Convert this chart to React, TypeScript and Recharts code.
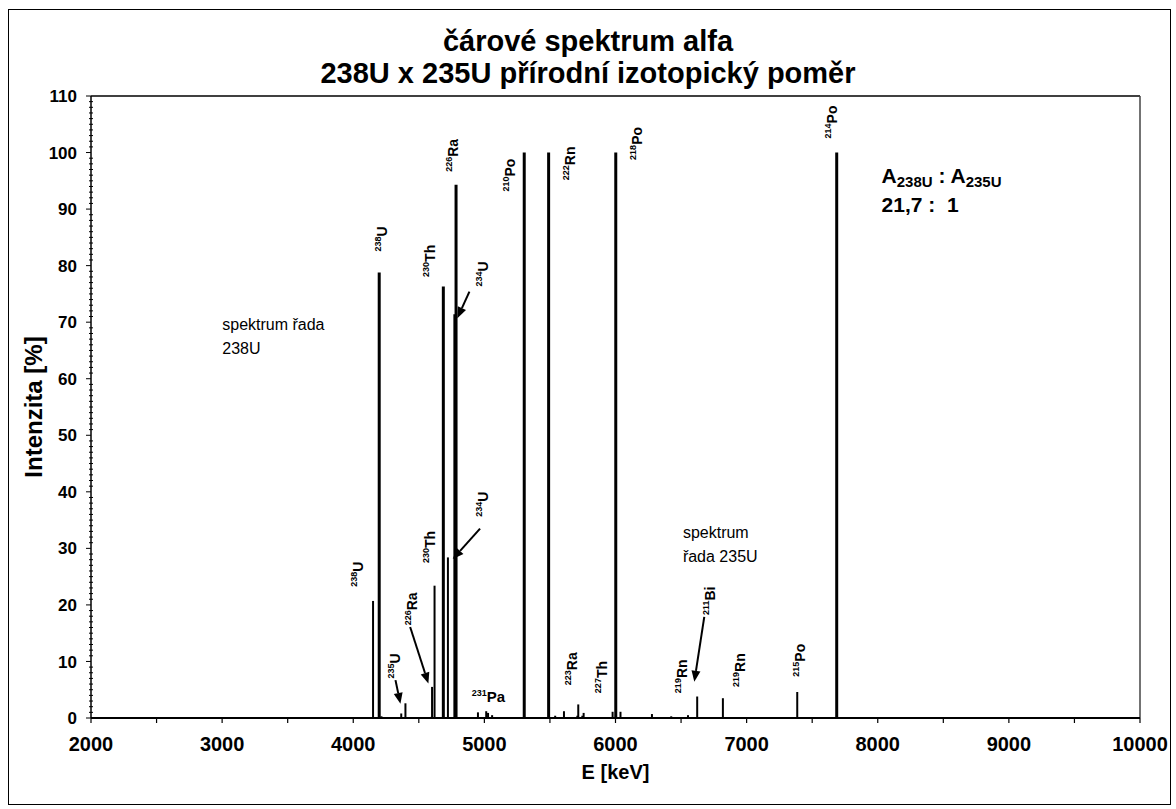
import React from 'react'
import {
  ComposedChart,
  XAxis,
  YAxis,
  ReferenceLine,
  ReferenceDot,
  Label,
} from 'recharts'

const FONT = '"Liberation Sans", Arial, Helvetica, sans-serif'

// rada 238U (intenzita na rozpad, %)
const u238Energy = [4151, 4198, 4601, 4620, 4687, 4722, 4775, 4784, 5304, 5490, 6002, 7687]
const u238Intensity = [20.7, 78.8, 5.5, 23.4, 76.3, 28.4, 71.4, 94.3, 100, 100, 100, 100]

// rada 235U (prepocteno pomerem 21,7 : 1)
const u235Energy = [
  4215, 4366, 4398, 4596, 4951, 5014, 5028, 5059, 5540, 5607, 5709, 5716, 5747, 5757,
  5978, 6038, 6278, 6425, 6553, 6623, 6819, 7386,
]
const u235Intensity = [
  0.3, 0.8, 2.6, 0.2, 1.0, 1.2, 0.9, 0.5, 0.4, 1.2, 0.4, 2.4, 0.4, 0.9, 1.1, 1.1, 0.7,
  0.3, 0.5, 3.8, 3.5, 4.6,
]

const xTicks = [
  2000, 2500, 3000, 3500, 4000, 4500, 5000, 5500, 6000, 6500, 7000, 7500, 8000, 8500,
  9000, 9500, 10000,
]
const yMajorTicks = [0, 10, 20, 30, 40, 50, 60, 70, 80, 90, 100, 110]

// popisky nuklidu: kotva = zacatek radku textu (keV, %)
const nuclideLabels = [
  { mass: '238', sym: 'U', e: 4256, v: 82.5 },
  { mass: '230', sym: 'Th', e: 4624, v: 78.0 },
  { mass: '226', sym: 'Ra', e: 4802, v: 96.6 },
  { mass: '234', sym: 'U', e: 5031, v: 76.3 },
  { mass: '210', sym: 'Po', e: 5234, v: 93.1 },
  { mass: '222', sym: 'Rn', e: 5691, v: 95.1 },
  { mass: '218', sym: 'Po', e: 6200, v: 98.7 },
  { mass: '214', sym: 'Po', e: 7691, v: 102.5 },
  { mass: '238', sym: 'U', e: 4078, v: 23.2 },
  { mass: '235', sym: 'U', e: 4357, v: 7.0 },
  { mass: '226', sym: 'Ra', e: 4485, v: 16.4 },
  { mass: '230', sym: 'Th', e: 4624, v: 27.4 },
  { mass: '234', sym: 'U', e: 5031, v: 35.6 },
  { mass: '223', sym: 'Ra', e: 5704, v: 5.8 },
  { mass: '227', sym: 'Th', e: 5933, v: 4.4 },
  { mass: '219', sym: 'Rn', e: 6543, v: 4.4 },
  { mass: '211', sym: 'Bi', e: 6758, v: 18.2 },
  { mass: '219', sym: 'Rn', e: 6987, v: 5.5 },
  { mass: '215', sym: 'Po', e: 7444, v: 7.3 },
]
const flatLabels = [{ mass: '231', sym: 'Pa', e: 4904, v: 2.9 }]

// sipky: od -> do
const arrows = [
  { e1: 4322, v1: 6.7, e2: 4360, v2: 2.5 },
  { e1: 4434, v1: 16.1, e2: 4573, v2: 6.1 },
  { e1: 4967, v1: 33.5, e2: 4759, v2: 28.1 },
  { e1: 4886, v1: 75.4, e2: 4794, v2: 70.7 },
  { e1: 6677, v1: 17.9, e2: 6601, v2: 6.4 },
]

const notes = [
  { lines: ['spektrum řada', '238U'], e: 3001, v: 68.6 },
  { lines: ['spektrum', 'řada 235U'], e: 6514, v: 31.8 },
]

const spectrum = [
  ...u238Energy.map((e, i) => ({ e, v: u238Intensity[i] })),
  ...u235Energy.map((e, i) => ({ e, v: u235Intensity[i] })),
]

const yAllTicks = yMajorTicks.flatMap((t) =>
  t === 110 ? [t] : [t, t + 1, t + 2, t + 3, t + 4, t + 5, t + 6, t + 7, t + 8, t + 9]
)

function YTick(props: any) {
  const { x, y, payload } = props
  const major = payload.value % 10 === 0
  return (
    <g>
      <line
        x1={major ? x - 5 : x - 2}
        x2={major ? x : x + 2}
        y1={y}
        y2={y}
        stroke="#000"
        strokeWidth={1}
      />
      {major && (
        <text
          x={x - 14}
          y={y}
          dy="0.36em"
          textAnchor="end"
          fontSize={17}
          fontWeight="bold"
          fontFamily={FONT}
          fill="#000"
        >
          {payload.value}
        </text>
      )}
    </g>
  )
}

function Arrow(props: any) {
  const { x1, y1, x2, y2 } = props
  const ang = Math.atan2(y2 - y1, x2 - x1)
  const len = 11
  const half = 4.5
  const bx = x2 - len * Math.cos(ang)
  const by = y2 - len * Math.sin(ang)
  const px = -Math.sin(ang) * half
  const py = Math.cos(ang) * half
  return (
    <g>
      <line x1={x1} y1={y1} x2={bx} y2={by} stroke="#000" strokeWidth={2} />
      <polygon points={`${x2},${y2} ${bx + px},${by + py} ${bx - px},${by - py}`} fill="#000" />
    </g>
  )
}

export default function App() {
  return (
    <div style={{ position: 'absolute', left: 0, top: 0, width: 1176, height: 809, background: '#fff' }}>
      <div
        style={{
          position: 'absolute',
          left: 8,
          top: 9,
          width: 1161,
          height: 794,
          border: '1px solid #000',
        }}
      />
      <div
        style={{
          position: 'absolute',
          left: 0,
          top: 25,
          width: 1176,
          textAlign: 'center',
          fontFamily: FONT,
          fontWeight: 'bold',
          fontSize: 29,
          lineHeight: '32px',
          color: '#000',
        }}
      >
        čárové spektrum alfa
        <br />
        238U x 235U přírodní izotopický poměr
      </div>
      <div style={{ position: 'absolute', left: 0, top: 0 }}>
        <ComposedChart
          width={1176}
          height={809}
          data={spectrum}
          margin={{ top: 96, right: 36, left: 0, bottom: 51 }}
        >
          <XAxis
            type="number"
            dataKey="e"
            domain={[2000, 10000]}
            allowDataOverflow
            ticks={xTicks}
            interval={0}
            tickFormatter={(v: number) => (v % 1000 === 0 ? String(v) : '')}
            tick={{ fontSize: 20, fontWeight: 'bold', fill: '#000', fontFamily: FONT }}
            tickLine={{ stroke: '#000', strokeWidth: 1.2 }}
            tickSize={5}
            tickMargin={14}
            axisLine={{ stroke: '#000', strokeWidth: 2 }}
            height={40}
          >
            <Label
              value="E [keV]"
              position="bottom"
              offset={7}
              style={{ fontSize: 20, fontWeight: 'bold', fill: '#000', fontFamily: FONT }}
            />
          </XAxis>
          <YAxis
            type="number"
            domain={[0, 110]}
            allowDataOverflow
            ticks={yAllTicks}
            interval={0}
            tick={<YTick />}
            tickLine={false}
            tickSize={0}
            tickMargin={0}
            axisLine={{ stroke: '#000', strokeWidth: 1.5 }}
            width={91}
          >
            <Label
              value="Intenzita [%]"
              angle={-90}
              position="insideLeft"
              offset={33}
              style={{ textAnchor: 'middle', fontSize: 24, fontWeight: 'bold', fill: '#000', fontFamily: FONT }}
            />
          </YAxis>

          <ReferenceLine y={110} stroke="#000" strokeWidth={1.5} ifOverflow="visible" />
          <ReferenceLine x={10000} stroke="#444" strokeWidth={1.5} ifOverflow="visible" />

          {spectrum.map((p, i) => (
            <ReferenceLine
              key={`l${i}`}
              segment={[
                { x: p.e, y: 0 },
                { x: p.e, y: p.v },
              ]}
              stroke="#000"
              strokeWidth={p.v >= 50 ? 3 : 2}
              ifOverflow="visible"
            />
          ))}

          {arrows.map((a, i) => (
            <ReferenceLine
              key={`a${i}`}
              segment={[
                { x: a.e1, y: a.v1 },
                { x: a.e2, y: a.v2 },
              ]}
              ifOverflow="visible"
              shape={(props: any) => <Arrow {...props} />}
            />
          ))}

          {nuclideLabels.map((n, i) => (
            <ReferenceDot
              key={`n${i}`}
              x={n.e}
              y={n.v}
              ifOverflow="visible"
              shape={(props: any) => (
                <text
                  x={props.cx}
                  y={props.cy}
                  transform={`rotate(-90 ${props.cx} ${props.cy})`}
                  fontFamily={FONT}
                  fontWeight="bold"
                  fill="#000"
                >
                  <tspan fontSize={9} dy={-6}>
                    {n.mass}
                  </tspan>
                  <tspan fontSize={14} dy={6}>
                    {n.sym}
                  </tspan>
                </text>
              )}
            />
          ))}

          {flatLabels.map((n, i) => (
            <ReferenceDot
              key={`f${i}`}
              x={n.e}
              y={n.v}
              ifOverflow="visible"
              shape={(props: any) => (
                <text x={props.cx} y={props.cy} fontFamily={FONT} fontWeight="bold" fill="#000">
                  <tspan fontSize={9} dy={-6}>
                    {n.mass}
                  </tspan>
                  <tspan fontSize={15} dy={6}>
                    {n.sym}
                  </tspan>
                </text>
              )}
            />
          ))}

          {notes.map((n, i) => (
            <ReferenceDot
              key={`t${i}`}
              x={n.e}
              y={n.v}
              ifOverflow="visible"
              shape={(props: any) => (
                <text x={props.cx} y={props.cy} fontFamily={FONT} fontSize={16} fill="#000">
                  {n.lines.map((l, j) => (
                    <tspan key={j} x={props.cx} dy={j === 0 ? 0 : 24}>
                      {l}
                    </tspan>
                  ))}
                </text>
              )}
            />
          ))}

          <ReferenceDot
            x={8029}
            y={94.6}
            ifOverflow="visible"
            shape={(props: any) => (
              <g fontFamily={FONT} fontWeight="bold" fill="#000">
                <text x={props.cx} y={props.cy} fontSize={21}>
                  A<tspan fontSize={15} dy={4}>238U</tspan>
                  <tspan dy={-4}> : A</tspan>
                  <tspan fontSize={15} dy={4}>235U</tspan>
                </text>
                <text x={props.cx} y={props.cy + 29} fontSize={21} style={{ whiteSpace: 'pre' }}>
                  {'21,7 :  1'}
                </text>
              </g>
            )}
          />
        </ComposedChart>
      </div>
    </div>
  )
}
